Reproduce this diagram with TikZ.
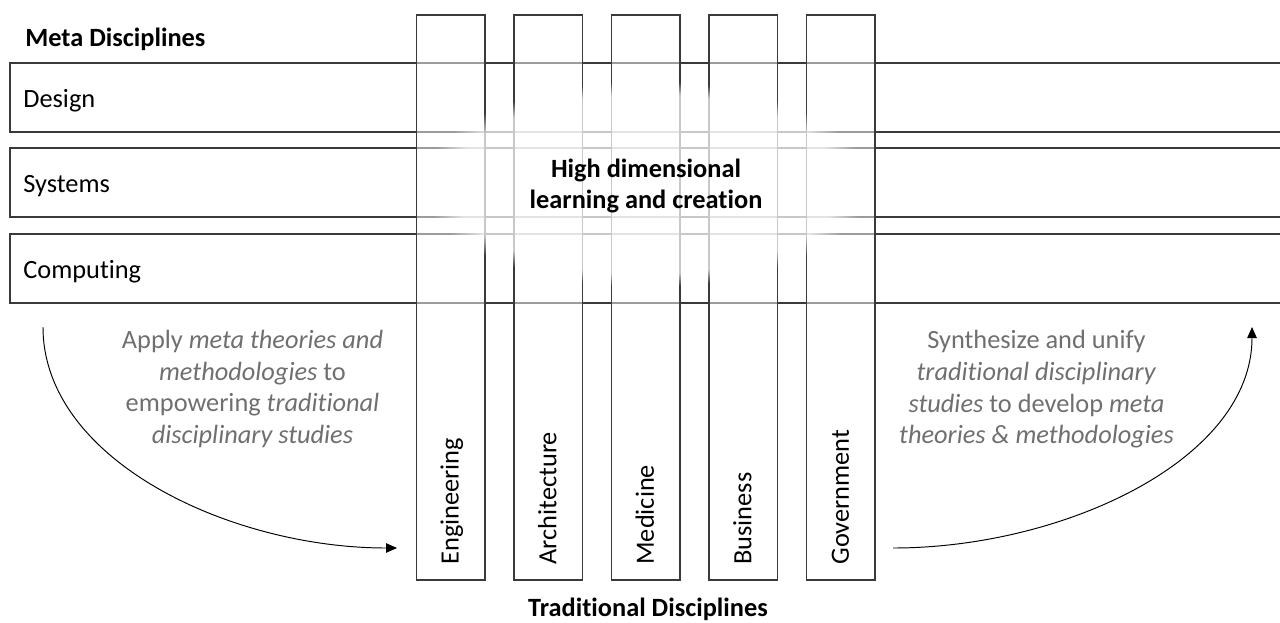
\documentclass[tikz,border=0pt]{standalone}
\usepackage{fontspec}
\setmainfont{Carlito}[Ligatures=CommonOff]
\usetikzlibrary{arrows.meta,fadings}
\definecolor{edgegray}{HTML}{3A3A3A}
\definecolor{notegray}{HTML}{6F6F6F}
% soft white glow behind the central label
\pgfdeclareradialshading{glowshade}{\pgfpointorigin}{%
  color(0bp)=(white!72!black); color(21bp)=(white!72!black);
  color(24bp)=(black); color(50bp)=(black)}
\pgfdeclarefading{glow}{\pgfuseshading{glowshade}}
\begin{document}
\fontsize{15}{18}\selectfont
\begin{tikzpicture}[x=0.02cm, y=-0.02cm,
% common options for the meta discipline rows:
metarow/.style = {draw=edgegray, line width=0.75pt, anchor=north west,
            minimum width=25.8cm, minimum height=1.38cm, inner sep=0, outer sep=0},
% common options for the traditional discipline columns:
tradcol/.style = {draw=edgegray, line width=0.75pt, fill=white, fill opacity=0.5,
            anchor=north west, minimum width=1.37cm, minimum height=11.3cm,
            inner sep=0, outer sep=0},
rowname/.style = {anchor=base west, inner sep=0},
colname/.style = {rotate=90, anchor=base west, inner sep=0},
heading/.style = {font=\bfseries, inner sep=0},
note/.style = {text=notegray, align=center, inner sep=0},
flow/.style = {-{Triangle[length=0.22cm, width=0.19cm]}, line width=0.55pt}]
\clip (0,0) rectangle (1280,622);
\node[heading, anchor=base west] (metatitle) at (25,46.7) {Meta Disciplines};
\node[metarow] (design) at (10,63) {};
\node[metarow] (systems) at (10,148) {};
\node[metarow] (computing) at (10,234) {};
\node[rowname] (designlbl) at ([xshift=0.26cm,yshift=-0.194cm]design.west) {Design};
\node[rowname] (systemslbl) at ([xshift=0.26cm,yshift=-0.194cm]systems.west) {Systems};
\node[rowname] (computinglbl) at ([xshift=0.26cm,yshift=-0.194cm]computing.west) {Computing};
\node[tradcol] (eng) at (416.5,15) {};
\node[tradcol] (arch) at (514,15) {};
\node[tradcol] (med) at (611.5,15) {};
\node[tradcol] (bus) at (709,15) {};
\node[tradcol] (gov) at (806.5,15) {};
\node[colname] (englbl) at ([xshift=0.16cm,yshift=0.3cm]eng.south) {Engineering};
\node[colname] (archlbl) at ([xshift=0.16cm,yshift=0.3cm]arch.south) {Architecture};
\node[colname] (medlbl) at ([xshift=0.16cm,yshift=0.3cm]med.south) {Medicine};
\node[colname] (buslbl) at ([xshift=0.16cm,yshift=0.3cm]bus.south) {Business};
\node[colname] (govlbl) at ([xshift=0.16cm,yshift=0.3cm]gov.south) {Government};
\node[heading, anchor=base] (tradtitle) at (648,616.5) {Traditional Disciplines};
% glow and the crossing label
\fill[white, path fading=glow] (414,77) rectangle (878,291);
\node[heading, align=center] (crossing) at (646,186) {High dimensional\\learning and creation};
% the two flows
\node[note] (applynote) at (252.5,389) {Apply \textit{meta theories and}\\
  \textit{methodologies} to\\ empowering \textit{traditional}\\ \textit{disciplinary studies}};
\node[note] (synthnote) at (1036.5,389.5) {Synthesize and unify\\
  \textit{traditional disciplinary}\\ \textit{studies} to develop \textit{meta}\\
  \textit{theories \& methodologies}};
\coordinate (applystart) at (43,327);
\coordinate (applyend) at (397,548);
\coordinate (synthstart) at (893,548);
\coordinate (synthend) at (1252,327);
\draw[flow] (applystart) .. controls (43,460) and (230,548) .. (applyend);
\draw[flow] (synthstart) .. controls (1063,548) and (1252,460) .. (synthend);
\end{tikzpicture}
\end{document}
